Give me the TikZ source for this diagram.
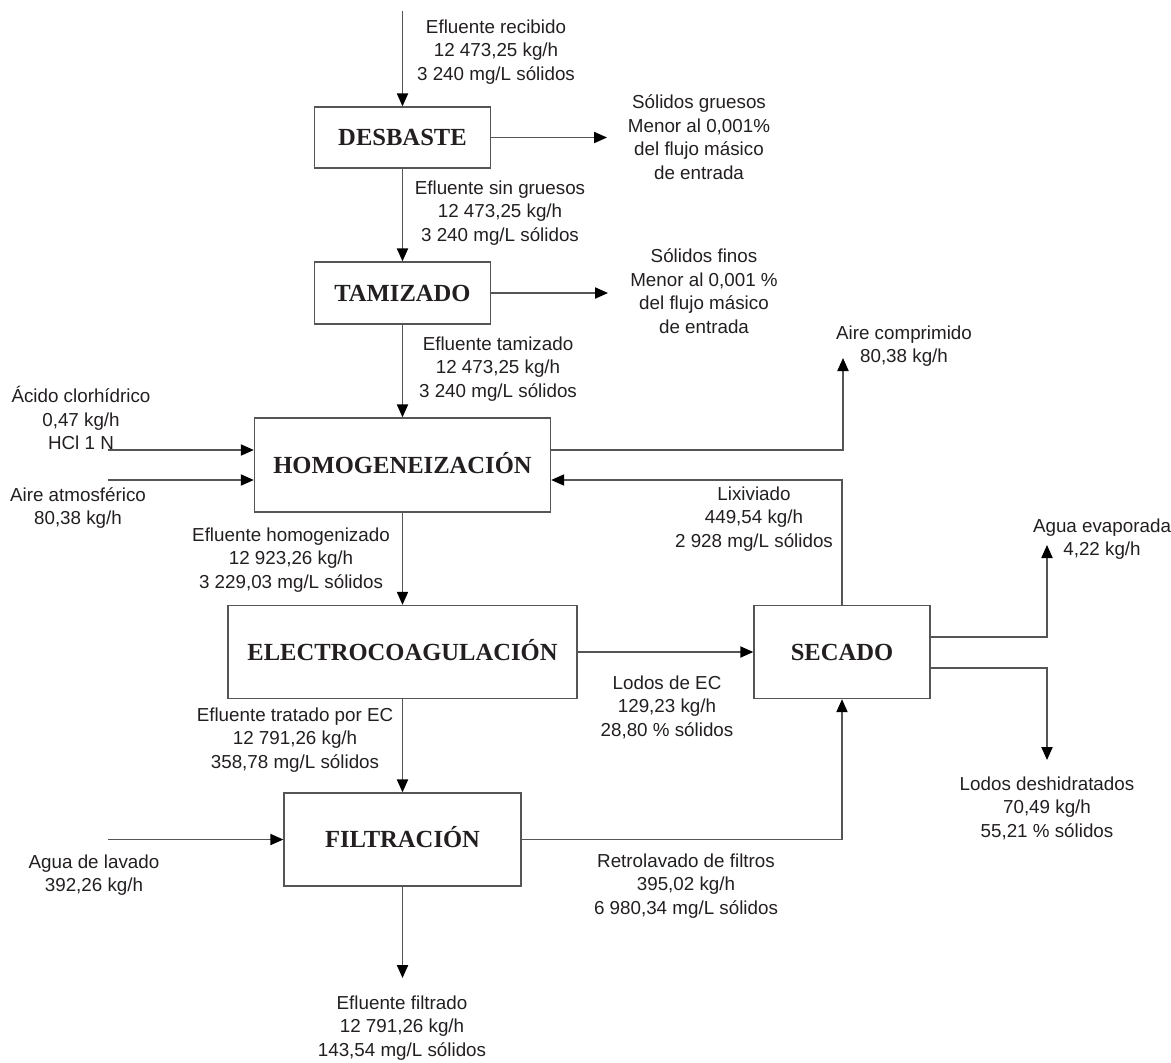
\documentclass[tikz,border=0pt]{standalone}
\usepackage{fontspec}
\setmainfont{Liberation Serif}
\setsansfont{Liberation Sans}
\usetikzlibrary{arrows.meta, positioning}
\definecolor{Linea}{RGB}{85, 85, 85}
\definecolor{Texto}{RGB}{35, 31, 32}

\begin{document}
\begin{tikzpicture}[x=0.5pt, y=-0.5pt,
    every node/.style={font=\sffamily\fontsize{9.4}{11.75}\selectfont, align=center, text=Texto, inner sep=0pt},
    proceso/.style={draw=Linea, line width=0.7pt, font=\rmfamily\bfseries\fontsize{12.3}{14}\selectfont,
        text height=8.1pt, text depth=0pt, minimum height=46.5pt},
    flecha/.style={draw=Linea, line width=0.7pt, -{Triangle[length=6.5pt, width=5.6pt, color=black]}}
]
\useasboundingbox (0,0) rectangle (1171,1062);
% Etapas del proceso
\node[proceso, minimum width=88pt, minimum height=30.5pt] (desbaste) at (402.5,137.5) {DESBASTE};
\node[proceso, minimum width=88pt, minimum height=31pt] (tamizado) at (402.5,293) {TAMIZADO};
\node[proceso, minimum width=148pt, minimum height=47pt] (homog) at (402.5,465) {HOMOGENEIZACIÓN};
\node[proceso, minimum width=174.5pt] (electro) at (402.5,652) {ELECTROCOAGULACIÓN};
\node[proceso, minimum width=88pt] (secado) at (842,652) {SECADO};
\node[proceso, minimum width=118.5pt] (filtracion) at (402.5,839.5) {FILTRACIÓN};
% Corrientes (textos)
\foreach \nombre/\x/\y/\texto in {
    recibido/496/52/{Efluente recibido\\12 473,25 kg/h\\3 240 mg/L sólidos},
    gruesos/699/137/{Sólidos gruesos\\Menor al 0,001\%\\del flujo másico\\de entrada},
    singruesos/500/213/{Efluente sin gruesos\\12 473,25 kg/h\\3 240 mg/L sólidos},
    finos/704/291/{Sólidos finos\\Menor al 0,001 \%\\del flujo másico\\de entrada},
    tamiz/498/369/{Efluente tamizado\\12 473,25 kg/h\\3 240 mg/L sólidos},
    acido/81/418/{Ácido clorhídrico\\0,47 kg/h\\HCl 1 N},
    atmosferico/78/508/{Aire atmosférico\\80,38 kg/h},
    comprimido/904/346/{Aire comprimido\\80,38 kg/h},
    lixiviado/754/519/{Lixiviado\\449,54 kg/h\\2 928 mg/L sólidos},
    homogenizado/291/560/{Efluente homogenizado\\12 923,26 kg/h\\3 229,03 mg/L sólidos},
    evaporada/1102/539/{Agua evaporada\\4,22 kg/h},
    lodosec/667/707/{Lodos de EC\\129,23 kg/h\\28,80 \% sólidos},
    tratado/295/740/{Efluente tratado por EC\\12 791,26 kg/h\\358,78 mg/L sólidos},
    deshidratados/1047/808/{Lodos deshidratados\\70,49 kg/h\\55,21 \% sólidos},
    lavado/94/875/{Agua de lavado\\392,26 kg/h},
    retrolavado/686/886/{Retrolavado de filtros\\395,02 kg/h\\6 980,34 mg/L sólidos},
    filtrado/402/1028/{Efluente filtrado\\12 791,26 kg/h\\143,54 mg/L sólidos}} {
    \node (\nombre) at (\x,\y) {\texto};
}
% Extremos libres
\coordinate (entrada) at (402.5,11);
\coordinate (gruesosfin) at (607,137.5);
\coordinate (finosfin) at (608,293);
\coordinate (hcl) at (108,450);
\coordinate (atmos) at (108,480);
\coordinate (comprim) at (843,358);
\coordinate (evap) at (1047,545);
\coordinate (deshid) at (1047,760);
\coordinate (aguain) at (108,839.5);
\coordinate (salida) at (402.5,978);
% Flechas
\draw[flecha] (entrada) -- (desbaste);
\draw[flecha] (desbaste) -- (gruesosfin);
\draw[flecha] (desbaste) -- (tamizado);
\draw[flecha] (tamizado) -- (finosfin);
\draw[flecha] (tamizado) -- (homog);
\draw[flecha] (hcl) -- (hcl -| homog.west);
\draw[flecha] (atmos) -- (atmos -| homog.west);
\draw[flecha] (homog.east |- hcl) -| (comprim);
\draw[flecha] (secado.north) |- (homog.east |- atmos);
\draw[flecha] (homog) -- (electro);
\draw[flecha] (electro) -- (secado);
\draw[flecha] (electro) -- (filtracion);
\draw[flecha] (aguain) -- (filtracion);
\draw[flecha] (filtracion) -| (secado);
\draw[flecha] (filtracion) -- (salida);
\draw[flecha] ([yshift=7.5pt]secado.east) -| (evap);
\draw[flecha] ([yshift=-8pt]secado.east) -| (deshid);
\end{tikzpicture}
\end{document}
